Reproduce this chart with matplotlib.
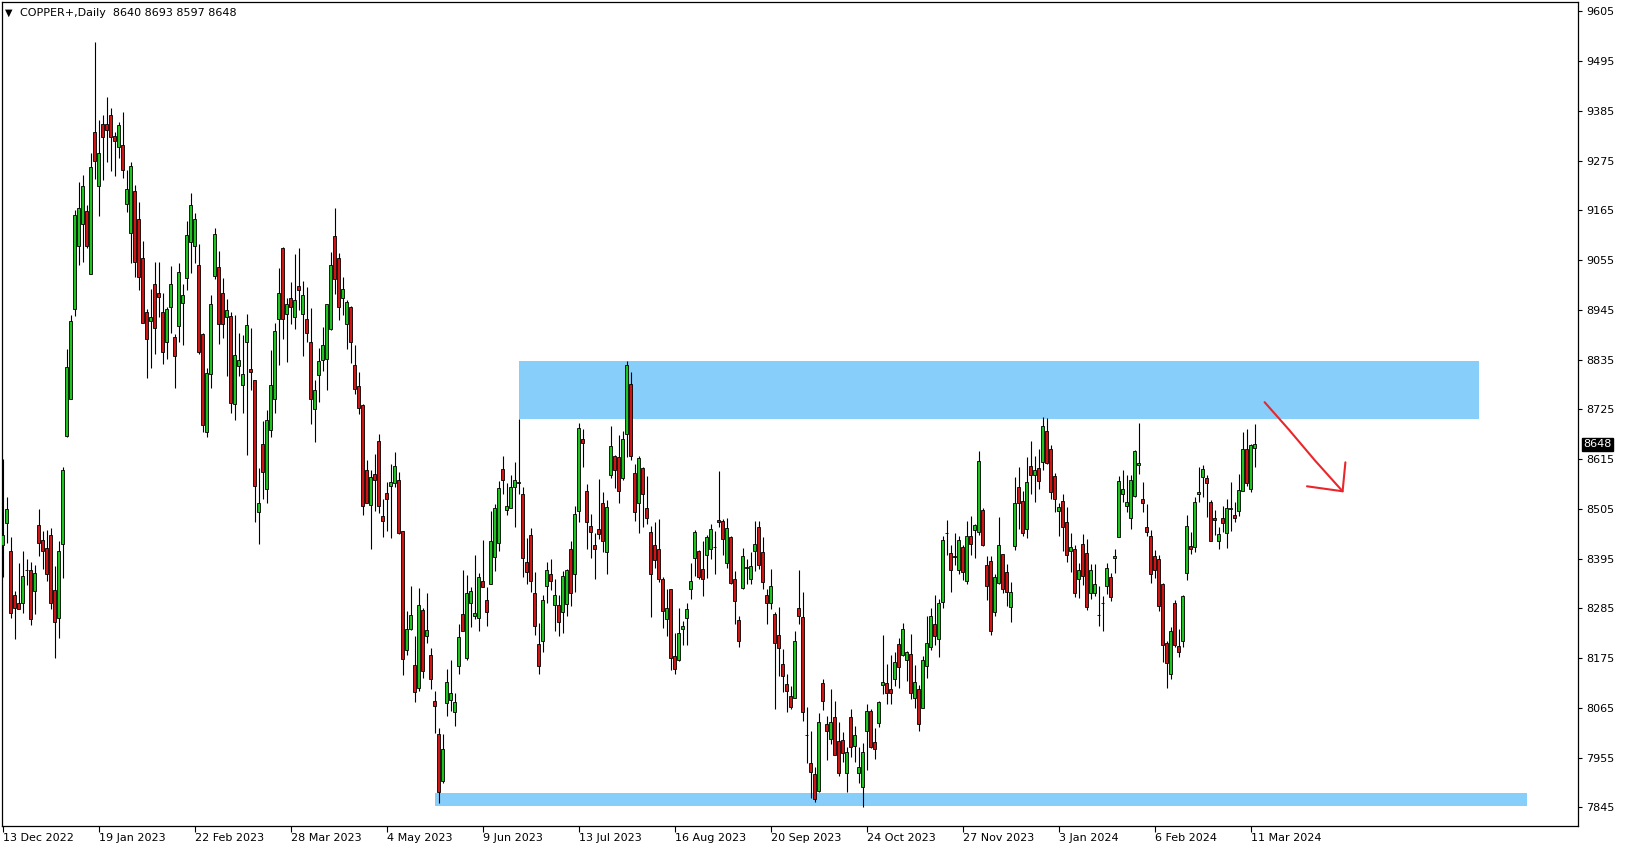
import matplotlib
matplotlib.use('Agg')
import matplotlib.pyplot as plt
import matplotlib.transforms as mtransforms
import numpy as np

# daily OHLC (bar 0 = 13 Dec 2022)
opens = [8425, 8474, 8413, 8314, 8298, 8298, 8371, 8370, 8323, 8469,
         8436, 8418, 8448, 8325, 8263, 8427, 8666, 8747, 8946, 9087,
         9135, 9164, 9024, 9338, 9218, 9356, 9356, 9376, 9329, 9305,
         9309, 9180, 9115, 9209, 9147, 9059, 8940, 8920, 9002, 8982,
         8940, 8875, 8952, 8884, 8910, 8960, 9015, 9096, 9087, 9044,
         8892, 8674, 8803, 9021, 9039, 8982, 8929, 8932, 8738, 8822,
         8778, 8873, 8814, 8790, 8499, 8649, 8550, 8679, 8747, 8924,
         9082, 8937, 8972, 8929, 8998, 8936, 8924, 8875, 8727, 8802,
         8834, 8837, 8902, 9108, 9059, 8972, 8913, 8951, 8823, 8776,
         8734, 8592, 8513, 8582, 8655, 8489, 8540, 8556, 8563, 8570,
         8457, 8192, 8240, 8160, 8108, 8282, 8225, 8182, 8080, 8007,
         7904, 8075, 8082, 8057, 8158, 8272, 8176, 8296, 8269, 8264,
         8346, 8304, 8340, 8398, 8430, 8593, 8503, 8506, 8554, 8564,
         8537, 8387, 8447, 8318, 8206, 8212, 8335, 8361, 8293, 8293,
         8276, 8295, 8416, 8360, 8501, 8660, 8545, 8467, 8425, 8460,
         8517, 8409, 8581, 8622, 8619, 8573, 8670, 8781, 8584, 8517,
         8596, 8506, 8453, 8425, 8416, 8350, 8261, 8328, 8180, 8171,
         8239, 8263, 8327, 8396, 8412, 8372, 8402, 8416, 8420, 8480,
         8478, 8385, 8442, 8351, 8259, 8331, 8374, 8351, 8413, 8464,
         8409, 8315, 8298, 8273, 8226, 8161, 8118, 8091, 8088, 8285,
         8265, 8005, 7943, 7918, 7882, 8119, 8030, 7996, 8044, 7992,
         7994, 7920, 8044, 7981, 7922, 7891, 8015, 8058, 7990, 8031,
         8116, 8121, 8106, 8130, 8206, 8182, 8172, 8184, 8086, 8106,
         8064, 8158, 8200, 8250, 8217, 8300, 8451, 8407, 8401, 8371,
         8421, 8346, 8445, 8458, 8453, 8503, 8381, 8390, 8278, 8342,
         8405, 8365, 8289, 8424, 8553, 8522, 8460, 8600, 8581, 8595,
         8608, 8677, 8637, 8578, 8501, 8522, 8475, 8413, 8416, 8349,
         8427, 8407, 8318, 8318, 8270, 8298, 8335, 8355, 8396, 8442,
         8537, 8512, 8486, 8534, 8601, 8527, 8464, 8445, 8401, 8394,
         8339, 8208, 8139, 8298, 8202, 8214, 8363, 8423, 8420, 8539,
         8576, 8573, 8520, 8486, 8435, 8484, 8452, 8504, 8491, 8501,
         8545, 8637, 8549, 8640]
highs = [8616, 8531, 8442, 8323, 8386, 8413, 8395, 8388, 8382, 8504,
         8456, 8459, 8463, 8379, 8434, 8598, 8858, 8934, 9167, 9228,
         9244, 9176, 9293, 9537, 9365, 9376, 9415, 9392, 9338, 9361,
         9382, 9254, 9273, 9221, 9184, 9097, 8948, 8991, 9050, 9050,
         8982, 8952, 9042, 8892, 9048, 9002, 9142, 9203, 9159, 9091,
         8895, 8816, 8978, 9125, 9075, 9015, 8969, 8941, 8934, 8895,
         8890, 8935, 8906, 8790, 8595, 8699, 8724, 8856, 8917, 9038,
         9085, 8971, 9006, 9069, 9081, 9009, 8996, 8950, 8789, 8860,
         8907, 8959, 9073, 9171, 9070, 9018, 8967, 8954, 8867, 8808,
         8736, 8613, 8591, 8626, 8671, 8528, 8565, 8604, 8631, 8587,
         8457, 8279, 8335, 8223, 8331, 8287, 8320, 8198, 8102, 8020,
         8007, 8151, 8171, 8099, 8251, 8370, 8359, 8333, 8403, 8364,
         8436, 8333, 8500, 8516, 8567, 8622, 8563, 8581, 8608, 8704,
         8554, 8440, 8462, 8365, 8252, 8315, 8388, 8394, 8349, 8315,
         8368, 8372, 8434, 8511, 8696, 8682, 8560, 8494, 8451, 8571,
         8542, 8525, 8688, 8624, 8668, 8678, 8833, 8807, 8604, 8622,
         8598, 8578, 8468, 8475, 8483, 8354, 8329, 8329, 8230, 8287,
         8257, 8296, 8386, 8458, 8414, 8434, 8447, 8472, 8456, 8589,
         8483, 8484, 8445, 8368, 8268, 8418, 8394, 8409, 8478, 8478,
         8442, 8328, 8372, 8276, 8289, 8195, 8139, 8113, 8235, 8370,
         8321, 8066, 8013, 7934, 8053, 8129, 8047, 8107, 8080, 8033,
         8011, 7979, 8063, 8024, 7979, 7988, 8074, 8062, 8020, 8081,
         8226, 8161, 8181, 8188, 8220, 8252, 8191, 8228, 8160, 8116,
         8180, 8268, 8285, 8315, 8305, 8445, 8480, 8425, 8451, 8444,
         8425, 8478, 8489, 8472, 8633, 8506, 8401, 8401, 8361, 8488,
         8405, 8383, 8344, 8575, 8597, 8545, 8619, 8655, 8622, 8637,
         8709, 8705, 8646, 8585, 8519, 8539, 8509, 8451, 8425, 8386,
         8449, 8438, 8383, 8383, 8335, 8312, 8385, 8364, 8416, 8578,
         8591, 8580, 8580, 8635, 8696, 8565, 8516, 8458, 8414, 8403,
         8342, 8214, 8243, 8304, 8239, 8315, 8492, 8455, 8531, 8597,
         8602, 8581, 8525, 8503, 8466, 8511, 8527, 8564, 8520, 8582,
         8674, 8681, 8648, 8693]
lows = [8355, 8429, 8263, 8217, 8283, 8274, 8337, 8248, 8272, 8400,
        8373, 8346, 8284, 8176, 8219, 8352, 8663, 8747, 8932, 9045,
        9051, 9081, 9024, 9235, 9153, 9232, 9273, 9253, 9242, 9280,
        9236, 9161, 9048, 9018, 8989, 8915, 8794, 8817, 8847, 8930,
        8825, 8836, 8895, 8773, 8875, 8867, 8989, 9026, 9049, 8847,
        8676, 8663, 8772, 9013, 8870, 8882, 8799, 8718, 8702, 8799,
        8718, 8624, 8768, 8475, 8427, 8528, 8517, 8664, 8718, 8824,
        8881, 8830, 8913, 8902, 8945, 8843, 8875, 8692, 8654, 8742,
        8811, 8769, 8900, 8981, 8922, 8933, 8859, 8828, 8760, 8714,
        8491, 8517, 8416, 8500, 8495, 8443, 8457, 8441, 8553, 8450,
        8137, 8181, 8237, 8079, 8103, 8132, 8208, 8106, 8009, 7854,
        7900, 8047, 8059, 8024, 8140, 8236, 8172, 8243, 8261, 8234,
        8333, 8246, 8340, 8368, 8411, 8539, 8492, 8506, 8466, 8539,
        8355, 8338, 8321, 8226, 8140, 8189, 8296, 8326, 8234, 8223,
        8230, 8268, 8291, 8322, 8477, 8598, 8416, 8397, 8349, 8438,
        8409, 8360, 8573, 8551, 8519, 8569, 8619, 8613, 8478, 8452,
        8466, 8471, 8265, 8374, 8344, 8241, 8224, 8149, 8140, 8169,
        8204, 8204, 8306, 8357, 8349, 8313, 8353, 8394, 8361, 8466,
        8403, 8375, 8339, 8251, 8200, 8329, 8338, 8338, 8368, 8372,
        8329, 8250, 8283, 8062, 8136, 8101, 8057, 8063, 8086, 8251,
        8035, 7944, 7865, 7856, 7880, 8060, 7950, 7985, 7960, 7915,
        7946, 7880, 7956, 7946, 7900, 7847, 7928, 7976, 7952, 8022,
        8096, 8074, 8074, 8114, 8110, 8180, 8125, 8085, 8064, 8014,
        8064, 8131, 8193, 8204, 8178, 8285, 8402, 8322, 8382, 8360,
        8348, 8340, 8403, 8396, 8447, 8424, 8304, 8226, 8269, 8340,
        8318, 8291, 8254, 8414, 8460, 8444, 8440, 8539, 8521, 8548,
        8590, 8605, 8527, 8499, 8444, 8413, 8388, 8366, 8311, 8309,
        8337, 8282, 8306, 8313, 8247, 8236, 8317, 8302, 8363, 8442,
        8521, 8499, 8461, 8532, 8582, 8499, 8445, 8342, 8352, 8280,
        8166, 8110, 8130, 8200, 8178, 8200, 8348, 8405, 8409, 8521,
        8532, 8488, 8435, 8447, 8416, 8455, 8419, 8456, 8475, 8489,
        8545, 8556, 8543, 8597]
closes = [8447, 8504, 8274, 8287, 8283, 8357, 8371, 8262, 8364, 8430,
          8413, 8362, 8298, 8254, 8413, 8592, 8818, 8921, 9155, 9171,
          9218, 9087, 9262, 9275, 9293, 9328, 9343, 9327, 9318, 9353,
          9254, 9212, 9264, 9050, 9017, 8915, 8880, 8929, 8904, 8974,
          8853, 8947, 9002, 8842, 9028, 8977, 9111, 9177, 9145, 8851,
          8691, 8805, 8957, 9112, 8914, 8914, 8945, 8740, 8845, 8834,
          8803, 8911, 8808, 8556, 8519, 8587, 8702, 8780, 8898, 8983,
          8926, 8957, 8952, 8967, 8990, 8977, 8893, 8747, 8767, 8833,
          8867, 8958, 9044, 9013, 8952, 8992, 8963, 8873, 8771, 8729,
          8512, 8519, 8575, 8568, 8512, 8478, 8528, 8565, 8600, 8451,
          8174, 8240, 8270, 8101, 8293, 8147, 8237, 8128, 8070, 7878,
          7974, 8122, 8097, 8077, 8221, 8236, 8318, 8323, 8274, 8354,
          8333, 8276, 8434, 8506, 8551, 8570, 8512, 8554, 8570, 8562,
          8396, 8365, 8346, 8247, 8158, 8304, 8370, 8346, 8315, 8256,
          8357, 8369, 8318, 8494, 8683, 8650, 8475, 8453, 8416, 8450,
          8433, 8509, 8645, 8590, 8545, 8660, 8823, 8623, 8499, 8617,
          8539, 8486, 8360, 8392, 8349, 8280, 8287, 8175, 8150, 8231,
          8246, 8283, 8346, 8455, 8355, 8349, 8442, 8461, 8420, 8475,
          8438, 8462, 8342, 8302, 8214, 8401, 8377, 8379, 8427, 8382,
          8343, 8298, 8335, 8208, 8197, 8136, 8103, 8068, 8213, 8269,
          8057, 8005, 7924, 7863, 8033, 8081, 8013, 8033, 7960, 7920,
          7965, 7967, 7978, 8004, 7934, 7967, 8059, 7979, 7974, 8079,
          8123, 8097, 8099, 8167, 8156, 8239, 8188, 8099, 8123, 8029,
          8171, 8208, 8269, 8225, 8296, 8436, 8451, 8371, 8398, 8436,
          8365, 8445, 8427, 8469, 8611, 8425, 8335, 8236, 8354, 8425,
          8329, 8322, 8321, 8517, 8517, 8451, 8564, 8581, 8591, 8567,
          8688, 8606, 8543, 8526, 8510, 8464, 8402, 8420, 8318, 8371,
          8357, 8289, 8370, 8340, 8270, 8298, 8374, 8310, 8401, 8567,
          8549, 8520, 8569, 8632, 8606, 8517, 8455, 8360, 8371, 8291,
          8203, 8164, 8235, 8203, 8189, 8312, 8467, 8416, 8520, 8542,
          8593, 8562, 8435, 8481, 8449, 8473, 8506, 8508, 8486, 8547,
          8637, 8563, 8646, 8648]

date_labels = ['13 Dec 2022', '19 Jan 2023', '22 Feb 2023', '28 Mar 2023',
               '4 May 2023', '9 Jun 2023', '13 Jul 2023', '16 Aug 2023',
               '20 Sep 2023', '24 Oct 2023', '27 Nov 2023', '3 Jan 2024',
               '6 Feb 2024', '11 Mar 2024']
label_step = 24
price_ticks = list(range(7845, 9606, 110))
header = 'COPPER+,Daily  8640 8693 8597 8648'
last_price = 8648

# drawn objects: (bar from, bar to, price low, price high)
supply_zone = (129, 368.9, 8704, 8831)
demand_zone = (108, 381.0, 7849, 7877)
arrow_line = [(315.4, 8741), (321.5, 8680), (328.0, 8612), (334.9, 8544)]
arrow_head = [(335.6, 8608), (334.9, 8544), (326.0, 8555)]

W, H = 1629, 850
bull = '#1DC41D'
bear = '#D01414'
zone_col = '#87CEFA'

fig = plt.figure(figsize=(W / 100, H / 100), dpi=100)
ax = fig.add_axes([2 / W, 24 / H, 1576 / W, 824 / H])

x = np.arange(len(opens))
o = np.array(opens, float)
c = np.array(closes, float)
up = c >= o
cols = np.where(up, bull, bear)

for z in (supply_zone, demand_zone):
    ax.fill_between([z[0], z[1]], z[2], z[3], color=zone_col, lw=0, zorder=1)

ax.vlines(x, lows, highs, color='black', lw=0.8, zorder=2)
ax.bar(x, np.abs(c - o), bottom=np.minimum(o, c), width=0.75,
       color=cols, edgecolor='black', linewidth=0.6, zorder=3)

ax.plot(*zip(*arrow_line), color='#E8262B', lw=1.5, zorder=4, solid_capstyle='round')
ax.plot(*zip(*arrow_head), color='#E8262B', lw=1.5, zorder=4, solid_capstyle='round')

ax.set_xlim(-0.25, 393.75)
ax.set_ylim(7803.9, 9625.8)

for s in ax.spines.values():
    s.set_linewidth(0.9)
    s.set_color('black')

ax.yaxis.tick_right()
ax.set_yticks(price_ticks)
ax.set_yticklabels([str(p) for p in price_ticks])
ax.tick_params(axis='y', length=3, width=0.8, pad=3, labelsize=8)

ax.set_xticks(np.arange(len(date_labels)) * label_step)
ax.set_xticklabels(date_labels)
ax.tick_params(axis='x', length=4, width=0.8, pad=1, labelsize=8)
shift = mtransforms.ScaledTranslation(0.3 / 72, 0, fig.dpi_scale_trans)
for lbl in ax.get_xticklabels():
    lbl.set_ha('left')
    lbl.set_transform(lbl.get_transform() + shift)

# current price marker on the price scale
tr = mtransforms.blended_transform_factory(ax.transAxes, ax.transData)
ax.text(1.0 + 5 / 1576, last_price, str(last_price), transform=tr, color='white',
        fontsize=8, va='center', ha='left', zorder=6, clip_on=False,
        bbox=dict(facecolor='black', edgecolor='black', pad=1.0))

fig.text(5 / W, 1 - 13 / H, '\u25BC', fontsize=7, va='center', ha='left')
fig.text(20 / W, 1 - 13 / H, header, fontsize=8, va='center', ha='left')

fig.savefig('out.png', dpi=100, facecolor='white')
